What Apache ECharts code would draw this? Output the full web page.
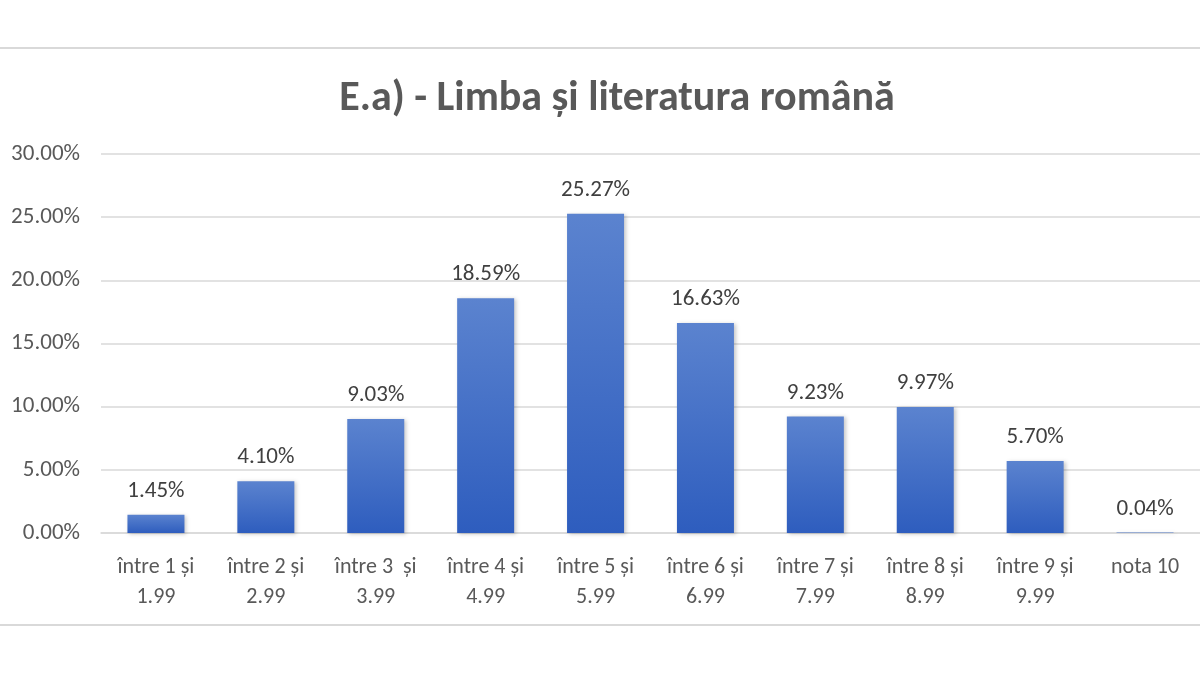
<!DOCTYPE html>
<html>
<head>
<meta charset="utf-8">
<title>E.a) - Limba și literatura română</title>
<script src="https://cdn.jsdelivr.net/npm/echarts@6/dist/echarts.min.js"></script>
<style>
    html, body { margin: 0; padding: 0; background: #ffffff; }
    #main { width: 1200px; height: 700px; }
</style>
</head>
<body>
<div id="main"></div>
<script>
var categories = ['între 1 și\n1.99', 'între 2 și\n2.99', 'între 3  și\n3.99', 'între 4 și\n4.99', 'între 5 și\n5.99',
    'între 6 și\n6.99', 'între 7 și\n7.99', 'între 8 și\n8.99', 'între 9 și\n9.99', 'nota 10'];
var percents = [1.45, 4.10, 9.03, 18.59, 25.27, 16.63, 9.23, 9.97, 5.70, 0.04];
var yTicks = [0, 5, 10, 15, 20, 25, 30];

var font = 'Carlito, "Open Sans", sans-serif';

var Chart = echarts.init(document.getElementById('main'));
var option_bar = {
    backgroundColor: '#ffffff',
    animation: false,
    title: {
        text: 'E.a) - Limba și literatura română',
        left: 612,
        top: 73,
        textAlign: 'center',
        textStyle: {
            color: '#595959',
            fontSize: 42,
            fontWeight: 'bold',
            fontFamily: font
        }
    },
    graphic: [
        {type: 'line', shape: {x1: 0, y1: 48, x2: 1200, y2: 48}, style: {stroke: '#d9d9d9', lineWidth: 2}},
        {type: 'line', shape: {x1: 0, y1: 625, x2: 1200, y2: 625}, style: {stroke: '#d9d9d9', lineWidth: 2}}
    ],
    grid: {
        left: 101,
        top: 154,
        width: 1108,
        height: 379
    },
    xAxis: {
        type: 'category',
        data: categories,
        axisTick: {show: false},
        axisLine: {lineStyle: {color: '#d9d9d9', width: 1.5}},
        axisLabel: {
            interval: 0,
            margin: 19,
            color: '#595959',
            fontSize: 22,
            lineHeight: 30,
            fontFamily: font
        }
    },
    yAxis: {
        type: 'value',
        min: yTicks[0],
        max: yTicks[yTicks.length - 1],
        interval: 5,
        axisLine: {show: false},
        axisTick: {show: false},
        splitLine: {lineStyle: {color: '#d9d9d9', width: 1.5}},
        axisLabel: {
            margin: 21,
            color: '#595959',
            fontSize: 23,
            fontFamily: font,
            formatter: function (v) { return v.toFixed(2) + '%'; }
        }
    },
    series: [{
        type: 'bar',
        data: percents,
        barWidth: 57,
        itemStyle: {
            color: new echarts.graphic.LinearGradient(0, 0, 0, 1, [
                {offset: 0, color: '#5B83CF'},
                {offset: 1, color: '#2E5DBE'}
            ]),
            shadowColor: 'rgba(0, 0, 0, 0.22)',
            shadowBlur: 4,
            shadowOffsetX: 2,
            shadowOffsetY: 1
        },
        label: {
            show: true,
            position: 'top',
            distance: 12,
            color: '#404040',
            fontSize: 23,
            fontFamily: font,
            formatter: function (p) { return p.value.toFixed(2) + '%'; }
        }
    }]
};
Chart.setOption(option_bar);
</script>
</body>
</html>
